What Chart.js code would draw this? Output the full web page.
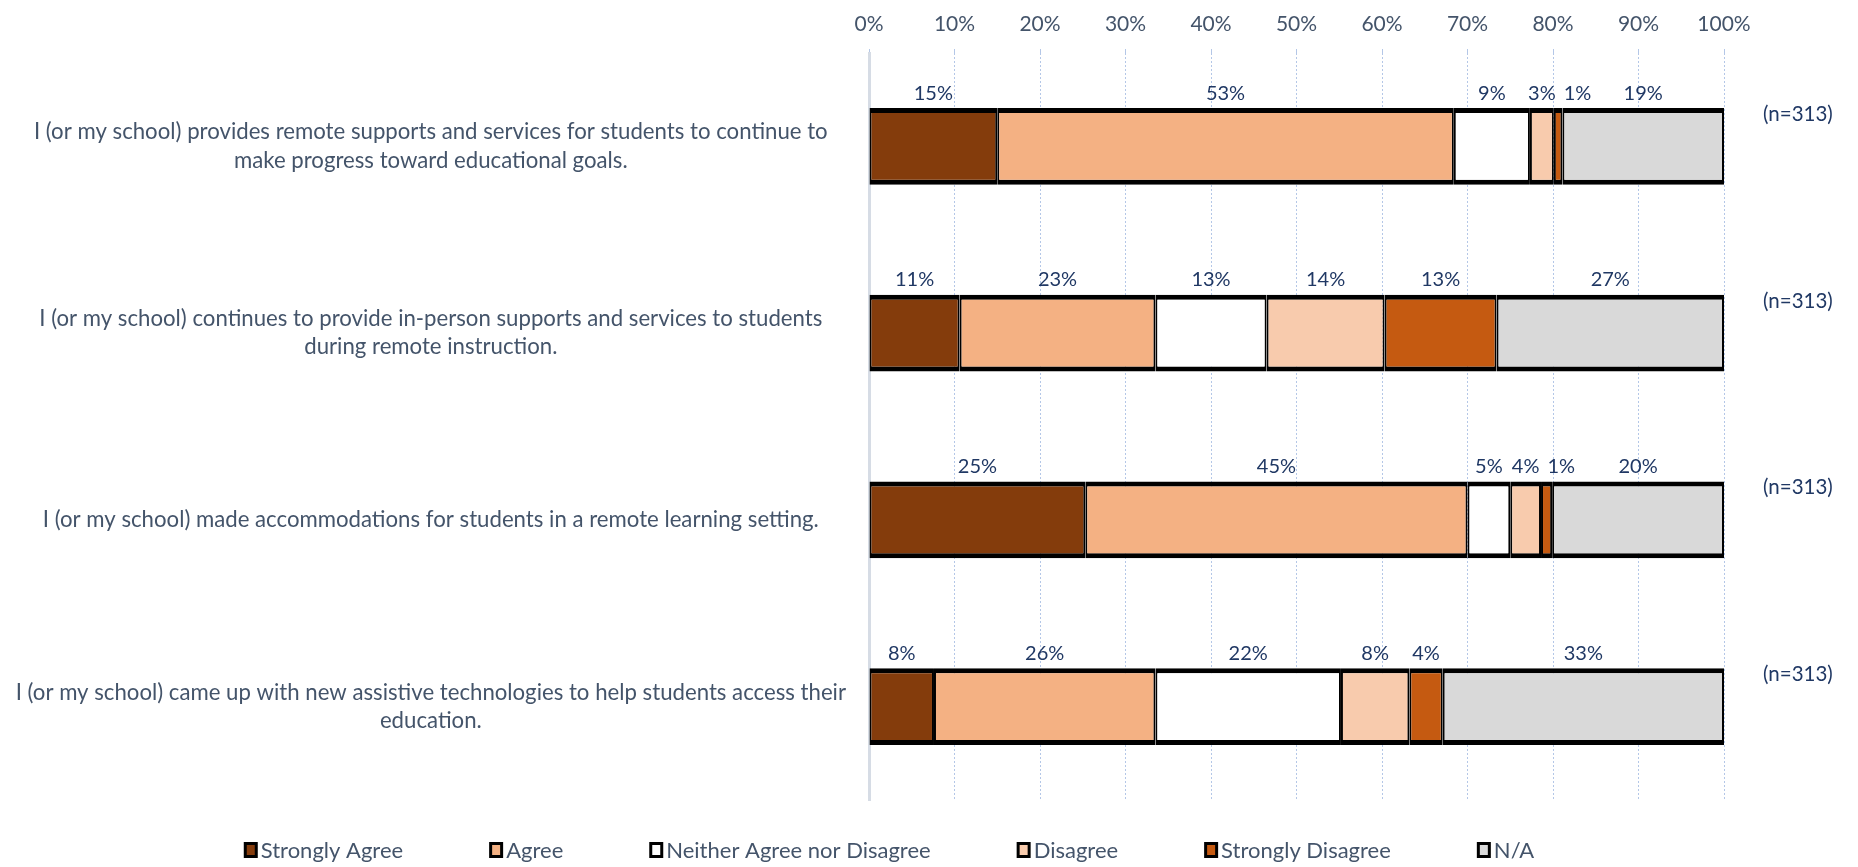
<!DOCTYPE html>
<html>
<head>
<meta charset="utf-8">
<script src="https://cdn.jsdelivr.net/npm/chart.js@4"></script>
<style>
  html, body { margin: 0; padding: 0; background: #fff; }
  canvas { display: block; }
</style>
</head>
<body>
<canvas id="chart" width="1858" height="867"></canvas>
<script>
// survey statements, one bar each (line breaks as in the report)
const statements = [
  ['I (or my school) provides remote supports and services for students to continue to', 'make progress toward educational goals.'],
  ['I (or my school) continues to provide in-person supports and services to students', 'during remote instruction.'],
  'I (or my school) made accommodations for students in a remote learning setting.',
  ['I (or my school) came up with new assistive technologies to help students access their', 'education.']
];
const respondents = ['(n=313)', '(n=313)', '(n=313)', '(n=313)'];

const responses = ['Strongly Agree', 'Agree', 'Neither Agree nor Disagree', 'Disagree', 'Strongly Disagree', 'N/A'];
const colors = ['#843C0C', '#F4B183', '#FFFFFF', '#F8CBAD', '#C55A11', '#D9D9D9'];

// % of respondents per statement
const stronglyAgree    = [15.0, 10.6, 25.3, 7.6];
const agree            = [53.4, 22.9, 44.7, 25.9];
const neither          = [8.9, 13.0, 5.0, 21.7];
const disagree         = [2.8, 13.8, 3.6, 8.0];
const stronglyDisagree = [1.0, 13.1, 1.3, 3.9];
const notApplicable    = [18.9, 26.6, 20.1, 32.9];

const FONT = 'Lato, "Noto Sans", sans-serif';
const TEXT = '#44546A';
const LABEL = '#203864';

const series = [stronglyAgree, agree, neither, disagree, stronglyDisagree, notApplicable];

// percent labels above each segment, nudged right when they would collide
const segmentLabels = {
  id: 'segmentLabels',
  afterDatasetsDraw(chart) {
    const ctx = chart.ctx;
    ctx.save();
    ctx.font = '20px ' + FONT;
    ctx.fillStyle = LABEL;
    ctx.textAlign = 'center';
    ctx.textBaseline = 'middle';
    const lastRight = {};
    chart.data.datasets.forEach((ds, di) => {
      chart.getDatasetMeta(di).data.forEach((bar, i) => {
        const text = Math.round(ds.data[i]) + '%';
        const w = ctx.measureText(text).width;
        let x = (bar.x + bar.base) / 2;
        const prev = lastRight[i];
        if (prev !== undefined && x - w / 2 < prev + 8) x = prev + 8 + w / 2;
        lastRight[i] = x + w / 2;
        ctx.fillText(text, x, bar.y - bar.height / 2 - 15);
      });
    });
    ctx.restore();
  }
};

// legend row under the plot, boxes with a black frame like the report
const bottomLegend = {
  id: 'bottomLegend',
  afterDraw(chart) {
    const ctx = chart.ctx;
    ctx.save();
    ctx.font = '22px ' + FONT;
    ctx.textBaseline = 'middle';
    const box = 14, gap = 3, spacing = 86;
    const items = chart.data.datasets.map(ds => ({
      label: ds.label,
      color: ds.backgroundColor,
      w: box + gap + ctx.measureText(ds.label).width
    }));
    const total = items.reduce((s, it) => s + it.w, 0) + spacing * (items.length - 1);
    let x = chart.width / 2 - 40 - total / 2;
    const y = chart.chartArea.bottom + 50;
    items.forEach(it => {
      ctx.fillStyle = '#000';
      ctx.fillRect(x, y - 8, box, 16);
      ctx.fillStyle = it.color;
      ctx.fillRect(x + 3, y - 5, box - 6, 10);
      ctx.fillStyle = TEXT;
      ctx.fillText(it.label, x + box + gap, y + 1);
      x += it.w + spacing;
    });
    ctx.restore();
  }
};

new Chart(document.getElementById('chart'), {
  type: 'bar',
  data: {
    labels: statements,
    datasets: responses.map((name, k) => ({
      label: name,
      data: series[k],
      backgroundColor: colors[k],
      borderColor: '#000',
      borderWidth: { top: 5, bottom: 5, left: 2, right: 2 },
      borderSkipped: false,
      barPercentage: 0.41,
      categoryPercentage: 1
    }))
  },
  options: {
    indexAxis: 'y',
    responsive: false,
    animation: false,
    layout: { padding: { left: 9, right: 24, top: 0, bottom: 67 } },
    plugins: {
      legend: { display: false },
      tooltip: { enabled: false }
    },
    scales: {
      x: {
        position: 'top',
        stacked: true,
        min: 0,
        max: 100,
        ticks: {
          stepSize: 10,
          padding: 14,
          color: TEXT,
          font: { family: FONT, size: 21, lineHeight: 1 },
          callback: v => v + '%'
        },
        grid: { color: '#B4C7E7', lineWidth: 1, tickLength: 4 },
        border: { display: false, dash: [2, 2] }
      },
      y: {
        stacked: true,
        afterFit: s => { s.width = 860; },
        ticks: {
          padding: 23,
          crossAlign: 'center',
          color: TEXT,
          font: { family: FONT, size: 22.2, lineHeight: 1.27 }
        },
        grid: { display: false, drawTicks: false },
        border: { display: true, color: '#D6DCE5', width: 3 }
      },
      y2: {
        type: 'category',
        position: 'right',
        labels: respondents,
        offset: true,
        afterFit: s => { s.width = 110; },
        ticks: {
          padding: 39,
          labelOffset: -32,
          color: LABEL,
          font: { family: FONT, size: 20.5 }
        },
        grid: { display: false, drawTicks: false },
        border: { display: false }
      }
    }
  },
  plugins: [segmentLabels, bottomLegend]
});
</script>
</body>
</html>
